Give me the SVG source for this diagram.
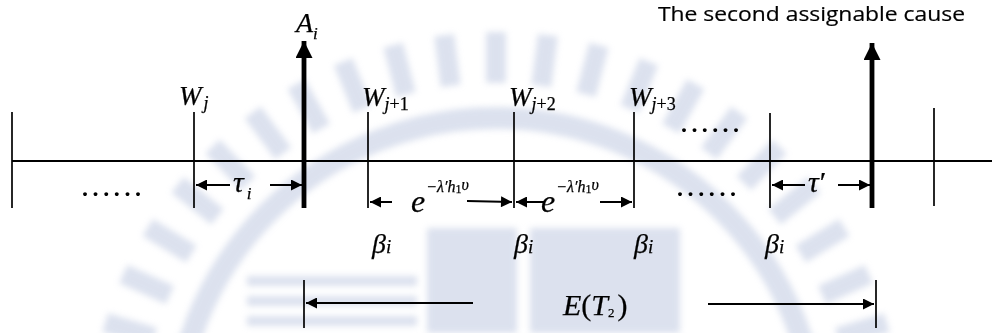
<svg xmlns="http://www.w3.org/2000/svg" width="992" height="333" viewBox="0 0 992 333">
<style>
.ln{stroke:#000;stroke-width:2;fill:none}
.thin{stroke:#000;stroke-width:1.7;fill:none}
.thick{stroke:#000;stroke-width:4.8;fill:none}
.m{font-family:'Liberation Serif',serif;font-style:italic;fill:#000;stroke:#000;stroke-width:0.25}
.u{font-family:'Liberation Serif',serif;font-style:normal;fill:#000}
.s{font-family:'Open Sans','Noto Sans',sans-serif;fill:#000;stroke:#000;stroke-width:0.2}
.d{font-family:'Liberation Serif',serif;font-weight:bold;fill:#000}
.wm{fill:#bfc9e1}
</style>
<defs>
<marker id="ah" viewBox="0 0 10 10" refX="10" refY="5" markerWidth="13" markerHeight="11" markerUnits="userSpaceOnUse" orient="auto"><path d="M0,0 L10,5 L0,10 Z" fill="#000"/></marker>
<marker id="bh" viewBox="0 0 10 10" refX="10" refY="5" markerWidth="17" markerHeight="17" markerUnits="userSpaceOnUse" orient="auto"><path d="M0,0 L10,5 L0,10 Z" fill="#000"/></marker>
<filter id="soft" x="-10%" y="-10%" width="120%" height="120%"><feGaussianBlur stdDeviation="3"/></filter>
</defs>
<rect width="992" height="333" fill="#fff"/>
<g id="watermark" opacity="0.55" filter="url(#soft)">
<circle cx="496" cy="440" r="322" fill="none" stroke="#bfc9e1" stroke-width="22"/>
<g class="wm">
<rect x="486" y="32" width="20" height="51" transform="rotate(-73.3 496 440)"/>
<rect x="486" y="32" width="20" height="51" transform="rotate(-66 496 440)"/>
<rect x="486" y="32" width="20" height="51" transform="rotate(-58.6 496 440)"/>
<rect x="486" y="32" width="20" height="51" transform="rotate(-51.3 496 440)"/>
<rect x="486" y="32" width="20" height="51" transform="rotate(-44 496 440)"/>
<rect x="486" y="32" width="20" height="51" transform="rotate(-36.6 496 440)"/>
<rect x="486" y="32" width="20" height="51" transform="rotate(-29.3 496 440)"/>
<rect x="486" y="32" width="20" height="51" transform="rotate(-22 496 440)"/>
<rect x="486" y="32" width="20" height="51" transform="rotate(-14.6 496 440)"/>
<rect x="486" y="32" width="20" height="51" transform="rotate(-7.3 496 440)"/>
<rect x="486" y="32" width="20" height="51"/>
<rect x="486" y="32" width="20" height="51" transform="rotate(7.3 496 440)"/>
<rect x="486" y="32" width="20" height="51" transform="rotate(14.6 496 440)"/>
<rect x="486" y="32" width="20" height="51" transform="rotate(22 496 440)"/>
<rect x="486" y="32" width="20" height="51" transform="rotate(29.3 496 440)"/>
<rect x="486" y="32" width="20" height="51" transform="rotate(36.6 496 440)"/>
<rect x="486" y="32" width="20" height="51" transform="rotate(44 496 440)"/>
<rect x="486" y="32" width="20" height="51" transform="rotate(51.3 496 440)"/>
<rect x="486" y="32" width="20" height="51" transform="rotate(58.6 496 440)"/>
<rect x="486" y="32" width="20" height="51" transform="rotate(66 496 440)"/>
<rect x="486" y="32" width="20" height="51" transform="rotate(73.3 496 440)"/>
<rect x="427" y="228" width="90" height="105"/>
<rect x="530" y="228" width="150" height="105"/>
<rect x="247" y="276" width="170" height="10"/>
<rect x="247" y="296" width="170" height="10"/>
<rect x="247" y="316" width="170" height="10"/>
</g>
</g>
<g id="connectors">
<line class="ln" x1="12" y1="161" x2="992" y2="161"/>
<line class="thin" x1="12" y1="112" x2="12" y2="208"/>
<line class="thin" x1="194" y1="112" x2="194" y2="208"/>
<line class="thin" x1="368" y1="112" x2="368" y2="208"/>
<line class="thin" x1="514" y1="112" x2="514" y2="208"/>
<line class="thin" x1="634" y1="112" x2="634" y2="208"/>
<line class="thin" x1="770" y1="113" x2="770" y2="208"/>
<line class="thin" x1="934" y1="108" x2="934" y2="206"/>
<line class="thick" x1="304" y1="208" x2="304" y2="41" marker-end="url(#bh)"/>
<line class="thick" x1="872" y1="208" x2="872" y2="43" marker-end="url(#bh)"/>
<line class="ln" x1="230" y1="185" x2="196" y2="185" marker-end="url(#ah)"/>
<line class="ln" x1="270" y1="185" x2="302" y2="185" marker-end="url(#ah)"/>
<line class="ln" x1="392" y1="202" x2="370" y2="202" marker-end="url(#ah)"/>
<line class="ln" x1="467" y1="201" x2="512" y2="202" marker-end="url(#ah)"/>
<line class="ln" x1="545" y1="202" x2="516" y2="202" marker-end="url(#ah)"/>
<line class="ln" x1="600" y1="202" x2="632" y2="202" marker-end="url(#ah)"/>
<line class="ln" x1="805" y1="185" x2="772" y2="185" marker-end="url(#ah)"/>
<line class="ln" x1="838" y1="185" x2="870" y2="185" marker-end="url(#ah)"/>
<line class="thin" x1="304" y1="280" x2="304" y2="328"/>
<line class="ln" x1="473" y1="303" x2="306" y2="303" marker-end="url(#ah)"/>
<line class="thin" x1="876" y1="280" x2="876" y2="328"/>
<line class="ln" x1="708" y1="304" x2="874" y2="304" marker-end="url(#ah)"/>
</g>
<g id="cause-label"><text class="s" x="658" y="21" font-size="19.5" textLength="307" lengthAdjust="spacingAndGlyphs">The second assignable cause</text></g>
<g id="Ai"><text class="m" x="296" y="32" font-size="28">A<tspan font-size="17" dy="7">i</tspan></text></g>
<g id="Wj"><text class="m" x="179" y="105" font-size="27">W<tspan font-size="18" dx="2" dy="4">j</tspan></text></g>
<g id="Wj1"><text class="m" x="362" y="106" font-size="27">W<tspan font-size="18" dy="4">j</tspan><tspan class="u" font-size="18">+1</tspan></text></g>
<g id="Wj2"><text class="m" x="509" y="106" font-size="27">W<tspan font-size="18" dy="4">j</tspan><tspan class="u" font-size="18">+2</tspan></text></g>
<g id="Wj3"><text class="m" x="629" y="106" font-size="27">W<tspan font-size="18" dy="4">j</tspan><tspan class="u" font-size="18">+3</tspan></text></g>
<g id="dots"><text class="d" x="681" y="132" font-size="24" textLength="58" lengthAdjust="spacing">......</text>
<text class="d" x="82" y="196" font-size="24" textLength="59" lengthAdjust="spacing">......</text>
<text class="d" x="677" y="196" font-size="24" textLength="59" lengthAdjust="spacing">......</text></g>
<g id="tau-i"><text class="m" x="233" y="192" font-size="30">τ<tspan font-size="17" dx="3" dy="7">i</tspan></text></g>
<g id="tau-prime"><text class="m" x="808" y="192" font-size="30">τ<tspan class="u" dx="1">′</tspan></text></g>
<g id="exp1"><text class="m" x="411" y="212" font-size="32">e<tspan font-size="16" dx="1" dy="-20">−λ′h</tspan><tspan class="u" font-size="12" dy="1">1</tspan><tspan font-size="16" dy="-3">υ</tspan></text></g>
<g id="exp2"><text class="m" x="541" y="212" font-size="32">e<tspan font-size="16" dx="1" dy="-20">−λ′h</tspan><tspan class="u" font-size="12" dy="1">1</tspan><tspan font-size="16" dy="-3">υ</tspan></text></g>
<g id="beta"><text class="m" x="372" y="253" font-size="28">β<tspan font-size="19">i</tspan></text>
<text class="m" x="514" y="253" font-size="28">β<tspan font-size="19">i</tspan></text>
<text class="m" x="634" y="253" font-size="28">β<tspan font-size="19">i</tspan></text>
<text class="m" x="765" y="253" font-size="28">β<tspan font-size="19">i</tspan></text></g>
<g id="ET2"><text class="m" x="563" y="315" font-size="30">E<tspan class="u">(</tspan>T<tspan class="u" font-size="13" dy="2">2</tspan><tspan class="u" dy="-2" dx="3">)</tspan></text></g>
</svg>
